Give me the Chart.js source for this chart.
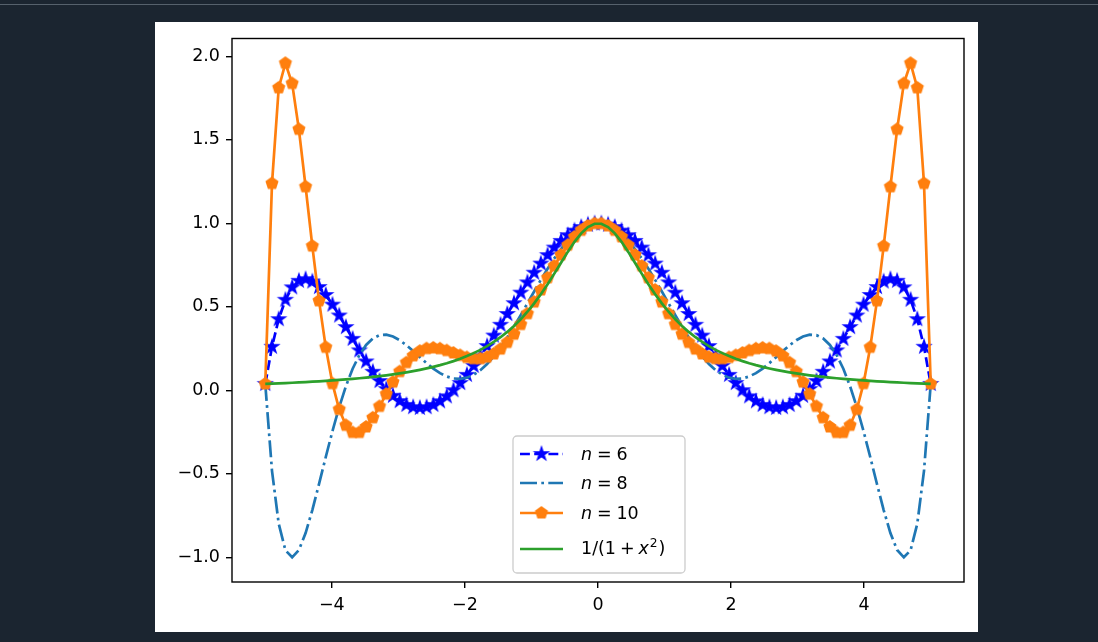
<!DOCTYPE html>
<html>
<head>
<meta charset="utf-8">
<script src="https://cdn.jsdelivr.net/npm/chart.js@4.4.0/dist/chart.umd.min.js"></script>
<style>
  html, body { margin: 0; padding: 0; }
  body { width: 1098px; height: 642px; background: #1b2530; position: relative; overflow: hidden; }
  #topline { position: absolute; left: 0; top: 4px; width: 1098px; height: 1px; background: #56616c; }
  #panel { position: absolute; left: 155px; top: 22px; width: 823px; height: 610px; background: #fff; }
  canvas { display: block; }
</style>
</head>
<body>
<div id="topline"></div>
<div id="panel"><canvas id="chart" width="823" height="610"></canvas></div>
<script>
// sample points (100 per curve)
const xValues = [
  -5.0, -4.899, -4.798, -4.697, -4.596, -4.4949, -4.3939, -4.2929, -4.1919, -4.0909,
  -3.9899, -3.8889, -3.7879, -3.6869, -3.5859, -3.4848, -3.3838, -3.2828, -3.1818, -3.0808,
  -2.9798, -2.8788, -2.7778, -2.6768, -2.5758, -2.4747, -2.3737, -2.2727, -2.1717, -2.0707,
  -1.9697, -1.8687, -1.7677, -1.6667, -1.5657, -1.4646, -1.3636, -1.2626, -1.1616, -1.0606,
  -0.9596, -0.8586, -0.7576, -0.6566, -0.5556, -0.4545, -0.3535, -0.2525, -0.1515, -0.0505,
  0.0505, 0.1515, 0.2525, 0.3535, 0.4545, 0.5556, 0.6566, 0.7576, 0.8586, 0.9596,
  1.0606, 1.1616, 1.2626, 1.3636, 1.4646, 1.5657, 1.6667, 1.7677, 1.8687, 1.9697,
  2.0707, 2.1717, 2.2727, 2.3737, 2.4747, 2.5758, 2.6768, 2.7778, 2.8788, 2.9798,
  3.0808, 3.1818, 3.2828, 3.3838, 3.4848, 3.5859, 3.6869, 3.7879, 3.8889, 3.9899,
  4.0909, 4.1919, 4.2929, 4.3939, 4.4949, 4.596, 4.697, 4.798, 4.899, 5.0
];

const n6Values = [
  0.0385, 0.2607, 0.4261, 0.5423, 0.6167, 0.6558, 0.6657, 0.6516, 0.6186, 0.5710,
  0.5129, 0.4478, 0.3787, 0.3083, 0.2390, 0.1727, 0.1111, 0.0557, 0.0074, -0.0329,
  -0.0646, -0.0874, -0.1009, -0.1053, -0.1007, -0.0873, -0.0656, -0.0361, 0.0005, 0.0436,
  0.0925, 0.1461, 0.2038, 0.2647, 0.3278, 0.3923, 0.4572, 0.5217, 0.5849, 0.6460,
  0.7042, 0.7589, 0.8092, 0.8547, 0.8947, 0.9288, 0.9566, 0.9777, 0.9920, 0.9991,
  0.9991, 0.9920, 0.9777, 0.9566, 0.9288, 0.8947, 0.8547, 0.8092, 0.7589, 0.7042,
  0.6460, 0.5849, 0.5217, 0.4572, 0.3923, 0.3278, 0.2647, 0.2038, 0.1461, 0.0925,
  0.0436, 0.0005, -0.0361, -0.0656, -0.0873, -0.1007, -0.1053, -0.1009, -0.0874, -0.0646,
  -0.0329, 0.0074, 0.0557, 0.1111, 0.1727, 0.2390, 0.3083, 0.3787, 0.4478, 0.5129,
  0.5710, 0.6186, 0.6516, 0.6657, 0.6558, 0.6167, 0.5423, 0.4261, 0.2607, 0.0385
];

const n8Values = [
  0.0385, -0.4822, -0.7989, -0.9583, -0.9999, -0.9563, -0.8547, -0.7170, -0.5607, -0.3995,
  -0.2436, -0.1005, 0.0247, 0.1291, 0.2113, 0.2714, 0.3104, 0.3301, 0.3330, 0.3219,
  0.2998, 0.2699, 0.2351, 0.1985, 0.1628, 0.1302, 0.1030, 0.0828, 0.0710, 0.0685,
  0.0759, 0.0934, 0.1208, 0.1578, 0.2035, 0.2569, 0.3168, 0.3818, 0.4504, 0.5210,
  0.5919, 0.6615, 0.7280, 0.7901, 0.8462, 0.8950, 0.9355, 0.9667, 0.9879, 0.9987,
  0.9987, 0.9879, 0.9667, 0.9355, 0.8950, 0.8462, 0.7901, 0.7280, 0.6615, 0.5919,
  0.5210, 0.4504, 0.3818, 0.3168, 0.2569, 0.2035, 0.1578, 0.1208, 0.0934, 0.0759,
  0.0685, 0.0710, 0.0828, 0.1030, 0.1302, 0.1628, 0.1985, 0.2351, 0.2699, 0.2998,
  0.3219, 0.3330, 0.3301, 0.3104, 0.2714, 0.2113, 0.1291, 0.0247, -0.1005, -0.2436,
  -0.3995, -0.5607, -0.7170, -0.8547, -0.9563, -0.9999, -0.9583, -0.7989, -0.4822, 0.0385
];

const n10Values = [
  0.0385, 1.2388, 1.8111, 1.9587, 1.8374, 1.5628, 1.2188, 0.8637, 0.5357, 0.2574,
  0.0399, -0.1147, -0.2098, -0.2525, -0.2524, -0.2196, -0.1644, -0.0962, -0.0231, 0.0489,
  0.1121, 0.1656, 0.2066, 0.2345, 0.2497, 0.2539, 0.2490, 0.2380, 0.2237, 0.2090,
  0.1968, 0.1896, 0.1897, 0.1986, 0.2175, 0.2468, 0.2865, 0.3358, 0.3938, 0.4586,
  0.5284, 0.6008, 0.6736, 0.7441, 0.8100, 0.8689, 0.9188, 0.9578, 0.9846, 0.9983,
  0.9983, 0.9846, 0.9578, 0.9188, 0.8689, 0.8100, 0.7441, 0.6736, 0.6008, 0.5284,
  0.4586, 0.3938, 0.3358, 0.2865, 0.2468, 0.2175, 0.1986, 0.1897, 0.1896, 0.1968,
  0.2090, 0.2237, 0.2380, 0.2490, 0.2539, 0.2497, 0.2345, 0.2066, 0.1656, 0.1121,
  0.0489, -0.0231, -0.0962, -0.1644, -0.2196, -0.2524, -0.2525, -0.2098, -0.1147, 0.0399,
  0.2574, 0.5357, 0.8637, 1.2188, 1.5628, 1.8374, 1.9587, 1.8111, 1.2388, 0.0385
];

const rungeValues = [
  0.0385, 0.0400, 0.0416, 0.0434, 0.0452, 0.0472, 0.0492, 0.0515, 0.0538, 0.0564,
  0.0591, 0.0620, 0.0652, 0.0685, 0.0722, 0.0761, 0.0803, 0.0849, 0.0899, 0.0953,
  0.1012, 0.1077, 0.1147, 0.1225, 0.1310, 0.1404, 0.1507, 0.1622, 0.1749, 0.1891,
  0.2049, 0.2226, 0.2424, 0.2647, 0.2898, 0.3180, 0.3497, 0.3855, 0.4257, 0.4706,
  0.5206, 0.5757, 0.6354, 0.6988, 0.7642, 0.8288, 0.8889, 0.9401, 0.9776, 0.9975,
  0.9975, 0.9776, 0.9401, 0.8889, 0.8288, 0.7642, 0.6988, 0.6354, 0.5757, 0.5206,
  0.4706, 0.4257, 0.3855, 0.3497, 0.3180, 0.2898, 0.2647, 0.2424, 0.2226, 0.2049,
  0.1891, 0.1749, 0.1622, 0.1507, 0.1404, 0.1310, 0.1225, 0.1147, 0.1077, 0.1012,
  0.0953, 0.0899, 0.0849, 0.0803, 0.0761, 0.0722, 0.0685, 0.0652, 0.0620, 0.0591,
  0.0564, 0.0538, 0.0515, 0.0492, 0.0472, 0.0452, 0.0434, 0.0416, 0.0400, 0.0385
];

const seriesLabels = ["n = 6", "n = 8", "n = 10", "1/(1 + x²)"];
const xTicks = [-4, -2, 0, 2, 4];
const yTicks = [-1, -0.5, 0, 0.5, 1, 1.5, 2];

const FONT = "DejaVu Sans";
const FS = 17.5;
Chart.defaults.font.family = FONT;
Chart.defaults.font.size = FS;
Chart.defaults.color = "#000";

// filled markers like matplotlib's '*' and 'p'
function makeMarker(color, kind) {
  const s = 20;
  const c = document.createElement("canvas");
  c.width = c.height = s;
  const ctx = c.getContext("2d");
  const R = kind === "star" ? 6.2 : 5.8;
  const n = kind === "star" ? 10 : 5;
  ctx.beginPath();
  for (let i = 0; i < n; i++) {
    const a = -Math.PI / 2 + (i * 2 * Math.PI) / n;
    const r = kind === "star" && i % 2 ? R * 0.381966 : R;
    ctx.lineTo(s / 2 + r * Math.cos(a), s / 2 + r * Math.sin(a));
  }
  ctx.closePath();
  ctx.fillStyle = color;
  ctx.strokeStyle = color;
  ctx.lineWidth = 1.8;
  ctx.lineJoin = "miter";
  ctx.fill();
  ctx.stroke();
  return c;
}

const starMarker = makeMarker("#0000ff", "star");
const pentMarker = makeMarker("#ff7f0e", "pent");

const toPoints = ys => xValues.map((x, i) => ({ x: x, y: ys[i] }));
const fmt = (v, d) => (v < 0 ? "\u2212" + Math.abs(v).toFixed(d) : v.toFixed(d));

// tiny mathtext: italic letters, spaced relations/operators, superscript ²
function drawMath(ctx, label, x, y) {
  const upright = FS + "px " + FONT;
  const italic = "italic " + FS + "px " + FONT;
  for (const ch of label) {
    if (ch === " ") continue;
    if (ch === "=" || ch === "+") {
      const sp = ch === "=" ? FS * 0.278 : FS * 0.222;
      ctx.font = upright;
      x += sp;
      ctx.fillText(ch, x, y);
      x += ctx.measureText(ch).width + sp;
    } else if (ch === "²") {
      ctx.font = FS * 0.7 + "px " + FONT;
      ctx.fillText("2", x + 1, y - FS * 0.42);
      x += ctx.measureText("2").width + 2;
    } else {
      ctx.font = /[a-z]/.test(ch) ? italic : upright;
      ctx.fillText(ch, x, y);
      x += ctx.measureText(ch).width;
    }
  }
}

const frameLegend = {
  id: "frameLegend",
  afterDatasetsDraw(chart) {
    const { ctx, chartArea: a } = chart;
    ctx.save();
    ctx.strokeStyle = "#000";
    ctx.lineWidth = 1.4;
    ctx.setLineDash([]);
    ctx.strokeRect(a.left, a.top, a.right - a.left, a.bottom - a.top);

    // legend, lower center
    const w = 172, h = 137;
    const x0 = (a.left + a.right) / 2 - w / 2 + 1;
    const y0 = a.bottom - 9 - h;
    ctx.beginPath();
    ctx.roundRect(x0, y0, w, h, 4);
    ctx.fillStyle = "rgba(255,255,255,0.8)";
    ctx.fill();
    ctx.strokeStyle = "#cccccc";
    ctx.lineWidth = 1.3;
    ctx.stroke();

    const rows = [18, 47, 77, 113];
    chart.data.datasets.forEach((ds, i) => {
      const yy = y0 + rows[i];
      ctx.beginPath();
      ctx.setLineDash(ds.borderDash || []);
      ctx.strokeStyle = ds.borderColor;
      ctx.lineWidth = ds.borderWidth;
      ctx.moveTo(x0 + 7, yy);
      ctx.lineTo(x0 + 50, yy);
      ctx.stroke();
      ctx.setLineDash([]);
      if (ds.pointStyle instanceof HTMLCanvasElement) {
        const m = ds.pointStyle;
        ctx.drawImage(m, x0 + 28.5 - m.width / 2, yy - m.height / 2);
      }
      ctx.fillStyle = "#000";
      ctx.textBaseline = "alphabetic";
      ctx.textAlign = "left";
      drawMath(ctx, ds.label, x0 + 68, yy + (i === 3 ? 5 : 6.4));
    });
    ctx.restore();
  }
};

new Chart(document.getElementById("chart"), {
  type: "line",
  data: {
    datasets: [
      {
        label: seriesLabels[0],
        data: toPoints(n6Values),
        borderColor: "#0000ff",
        borderWidth: 2.7,
        borderDash: [9.9, 4.3],
        pointStyle: starMarker,
        pointRadius: 5,
        order: 4,
      },
      {
        label: seriesLabels[1],
        data: toPoints(n8Values),
        borderColor: "#1f77b4",
        borderWidth: 2.7,
        borderDash: [17, 4.3, 2.7, 4.3],
        pointRadius: 0,
        order: 3,
      },
      {
        label: seriesLabels[2],
        data: toPoints(n10Values),
        borderColor: "#ff7f0e",
        borderWidth: 2.7,
        pointStyle: pentMarker,
        pointRadius: 5,
        order: 2,
      },
      {
        label: seriesLabels[3],
        data: toPoints(rungeValues),
        borderColor: "#2ca02c",
        borderWidth: 2.7,
        pointRadius: 0,
        order: 1,
      },
    ],
  },
  options: {
    responsive: false,
    animation: false,
    events: [],
    layout: { padding: { left: 0, top: 15, right: 14, bottom: 0 } },
    elements: { line: { tension: 0, fill: false } },
    plugins: { legend: { display: false }, tooltip: { enabled: false } },
    scales: {
      x: {
        type: "linear",
        min: -5.5,
        max: 5.5,
        afterBuildTicks: s => { s.ticks = xTicks.map(v => ({ value: v })); },
        afterFit: s => { s.height = 50; },
        border: { display: false },
        grid: { drawOnChartArea: false, drawTicks: true, tickLength: 6, color: "#000", lineWidth: 1.4 },
        ticks: { callback: v => fmt(v, 0), padding: 7, maxRotation: 0, autoSkip: false },
      },
      y: {
        type: "linear",
        min: -1.1478,
        max: 2.1067,
        afterBuildTicks: s => { s.ticks = yTicks.map(v => ({ value: v })); },
        afterFit: s => { s.width = 77; },
        border: { display: false },
        grid: { drawOnChartArea: false, drawTicks: true, tickLength: 6, color: "#000", lineWidth: 1.4 },
        ticks: { callback: v => fmt(v, 1), padding: 6, autoSkip: false },
      },
    },
  },
  plugins: [frameLegend],
});
</script>
</body>
</html>
